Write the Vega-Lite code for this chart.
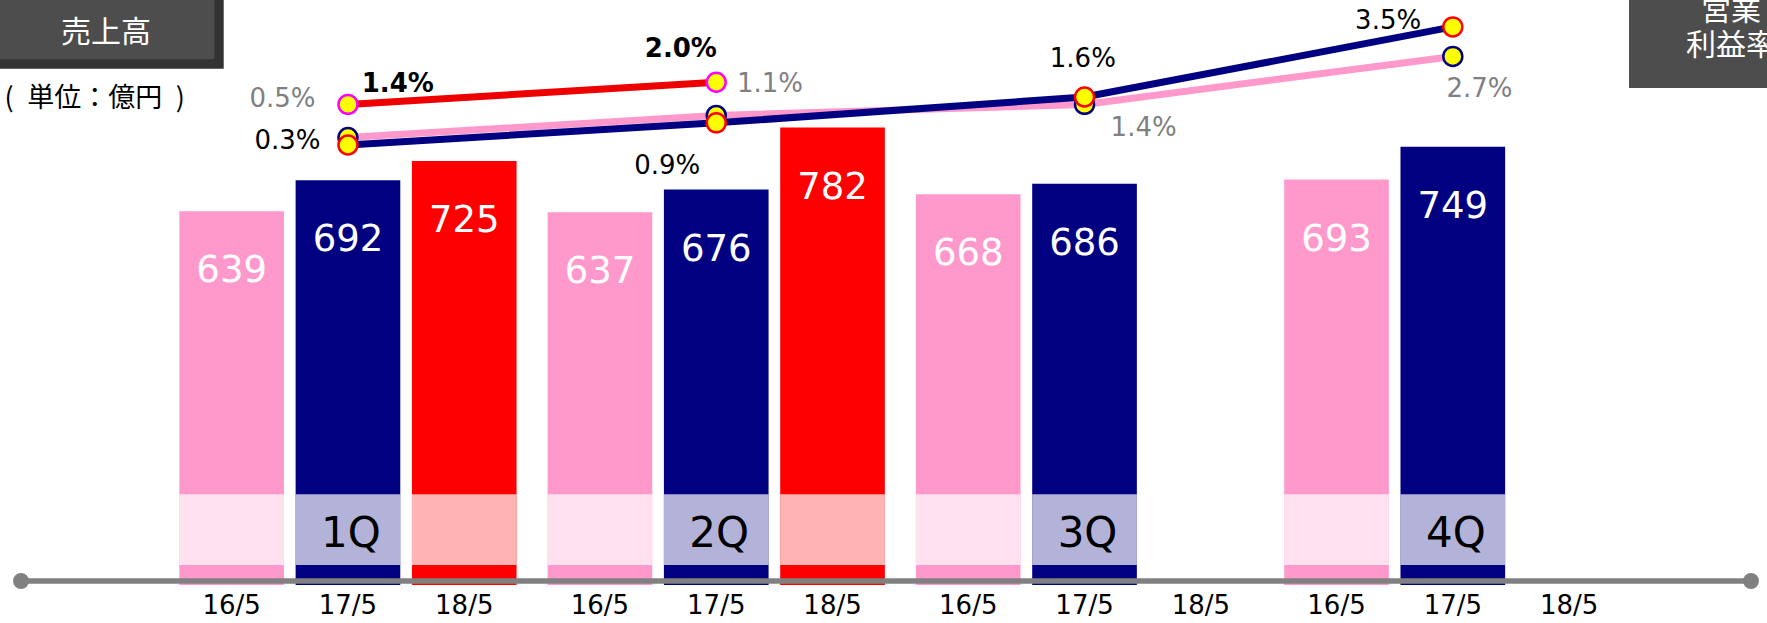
{
  "$schema": "https://vega.github.io/schema/vega-lite/v6.json",
  "width": 1730,
  "height": 585,
  "autosize": {"type": "none"},
  "padding": {"left": 21, "top": 0, "right": 16, "bottom": 38},
  "background": "white",
  "config": {"view": {"stroke": null}, "font": "DejaVu Sans", "text": {"font": "DejaVu Sans", "baseline": "middle"}},
  "datasets": {
    "q": [
      {"quarter": "1Q", "series": "16/5", "sales": 639, "pct": 0.005},
      {"quarter": "1Q", "series": "17/5", "sales": 692, "pct": 0.003},
      {"quarter": "1Q", "series": "18/5", "sales": 725, "pct": 0.014},
      {"quarter": "2Q", "series": "16/5", "sales": 637, "pct": 0.011},
      {"quarter": "2Q", "series": "17/5", "sales": 676, "pct": 0.009},
      {"quarter": "2Q", "series": "18/5", "sales": 782, "pct": 0.020},
      {"quarter": "3Q", "series": "16/5", "sales": 668, "pct": 0.014},
      {"quarter": "3Q", "series": "17/5", "sales": 686, "pct": 0.016},
      {"quarter": "3Q", "series": "18/5", "sales": null, "pct": null},
      {"quarter": "4Q", "series": "16/5", "sales": 693, "pct": 0.027},
      {"quarter": "4Q", "series": "17/5", "sales": 749, "pct": 0.035},
      {"quarter": "4Q", "series": "18/5", "sales": null, "pct": null}
    ]
  },
  "data": {"name": "q"},
  "layer": [
    {
      "encoding": {
        "x": {"field": "quarter", "type": "nominal", "sort": ["1Q", "2Q", "3Q", "4Q"], "scale": {"type": "band", "paddingInner": 0, "paddingOuter": 0.3487, "align": 0.556}, "axis": null},
        "xOffset": {"field": "series", "type": "nominal", "sort": ["16/5", "17/5", "18/5"], "scale": {"paddingInner": 0.1, "paddingOuter": 0.1334}}
      },
      "layer": [
        {
          "transform": [{"filter": "datum.sales != null"}],
          "mark": {"type": "bar"},
          "encoding": {
            "y": {"field": "sales", "type": "quantitative", "scale": {"domain": [0, 1000], "nice": false},
              "axis": {"title": "(\u2002単位：億円\u2002)", "titleAngle": 0, "titleAlign": "left", "titleBaseline": "middle", "titleX": -17, "titleY": 98, "titleFont": "Noto Sans CJK JP", "titleFontSize": 27, "titleFontWeight": "normal", "titleColor": "black", "labels": false, "ticks": false, "domain": false, "grid": false}},
            "fill": {"field": "series", "type": "nominal", "scale": {"domain": ["16/5", "17/5", "18/5"], "range": ["#FF99CC", "#000080", "#FF0000"]},
              "legend": {"orient": "none", "legendX": -51, "legendY": -40, "values": [], "title": ["\u200b\u3000\u200b", "\u200b\u3000\u3000\u2002売上高\u3000\u2002\u2009\u200b"], "titleFont": "Noto Sans CJK JP", "titleFontSize": 30, "titleFontWeight": "normal", "titleColor": "white", "titleLineHeight": 41.6, "titleLimit": 600, "titlePadding": 0, "titleAlign": "left", "titleBaseline": "top", "padding": 16.1, "fillColor": "#4D4D4D", "strokeColor": "#333333", "encode": {"legend": {"update": {"strokeWidth": {"value": 9.4}}}}}}
          }
        },
        {
          "transform": [{"filter": "datum.sales != null"}],
          "mark": {"type": "bar", "fill": "white", "opacity": 0.7},
          "encoding": {"y": {"datum": 155, "type": "quantitative"}, "y2": {"datum": 34}}
        },
        {
          "transform": [{"filter": "datum.sales != null"}],
          "mark": {"type": "text", "color": "white", "fontSize": 37, "dy": 60, "baseline": "middle"},
          "encoding": {"y": {"field": "sales", "type": "quantitative"}, "text": {"field": "sales", "type": "quantitative"}}
        },
        {
          "transform": [{"filter": "datum.series == '17/5'"}],
          "mark": {"type": "text", "color": "black", "fontSize": 42, "dx": 3, "baseline": "middle"},
          "encoding": {"y": {"datum": 88, "type": "quantitative"}, "text": {"field": "quarter", "type": "nominal"}}
        },
        {
          "mark": {"type": "text", "color": "black", "fontSize": 26, "dy": 20.5, "baseline": "middle"},
          "encoding": {"y": {"datum": 0, "type": "quantitative"}, "text": {"field": "series", "type": "nominal"}}
        }
      ]
    },
    {
      "data": {"values": [{"end": 0}, {"end": 1}]},
      "encoding": {
        "x": {"field": "end", "type": "quantitative", "scale": {"domain": [0, 1], "nice": false, "zero": false}, "axis": null},
        "y": {"datum": 0, "type": "quantitative", "scale": {"domain": [0, 1000], "nice": false}, "axis": null}
      },
      "layer": [
        {"mark": {"type": "line", "color": "#808080", "strokeWidth": 5.5, "yOffset": -4}},
        {"mark": {"type": "point", "filled": true, "color": "#808080", "size": 254, "opacity": 1, "yOffset": -4}}
      ]
    },
    {
      "transform": [{"filter": "datum.pct != null"}],
      "encoding": {
        "x": {"field": "quarter", "type": "nominal", "sort": ["1Q", "2Q", "3Q", "4Q"], "scale": {"type": "band", "paddingInner": 0, "paddingOuter": 0.3487, "align": 0.556}, "axis": null},
        "y": {"field": "pct", "type": "quantitative", "scale": {"domain": [-0.1163, 0.0423], "nice": false, "zero": false}, "axis": null}
      },
      "layer": [
        {
          "mark": {"type": "line", "strokeWidth": 7},
          "encoding": {
            "stroke": {"field": "series", "type": "nominal", "sort": "ascending", "scale": {"range": ["#FF99CC", "#000080", "#EE0000"]},
              "legend": {"orient": "none", "legendX": 1608, "legendY": -31, "values": [], "title": ["\u200b\u3000\u2002営業", "\u200b\u3000利益率"], "titleFont": "Noto Sans CJK JP", "titleFontSize": 30, "titleFontWeight": "normal", "titleColor": "white", "titleLineHeight": 35, "titleLimit": 600, "titlePadding": 0, "titleAlign": "left", "titleBaseline": "top", "padding": 27, "fillColor": "#4D4D4D"}}
          }
        },
        {"transform": [{"filter": "datum.series == '16/5'"}], "mark": {"type": "point", "shape": "circle", "filled": true, "fill": "#FFFF00", "stroke": "#000080", "strokeWidth": 2.5, "size": 360, "opacity": 1}},
        {"transform": [{"filter": "datum.series == '17/5'"}], "mark": {"type": "point", "shape": "circle", "filled": true, "fill": "#FFFF00", "stroke": "#FF0000", "strokeWidth": 2.5, "size": 360, "opacity": 1}},
        {"transform": [{"filter": "datum.series == '18/5'"}], "mark": {"type": "point", "shape": "circle", "filled": true, "fill": "#FFFF00", "stroke": "#FF00FF", "strokeWidth": 2.5, "size": 360, "opacity": 1}},
        {"transform": [{"filter": "datum.series == '16/5' && datum.quarter == '1Q'"}], "mark": {"type": "text", "dx": -65.5, "dy": -38.4, "fontSize": 26, "color": "#808080"}, "encoding": {"text": {"field": "pct", "type": "quantitative", "format": ".1%"}}},
        {"transform": [{"filter": "datum.series == '16/5' && datum.quarter == '2Q'"}], "mark": {"type": "text", "dx": 53.7, "dy": -31.4, "fontSize": 26, "color": "#808080"}, "encoding": {"text": {"field": "pct", "type": "quantitative", "format": ".1%"}}},
        {"transform": [{"filter": "datum.series == '16/5' && datum.quarter == '3Q'"}], "mark": {"type": "text", "dx": 59.1, "dy": 23.5, "fontSize": 26, "color": "#808080"}, "encoding": {"text": {"field": "pct", "type": "quantitative", "format": ".1%"}}},
        {"transform": [{"filter": "datum.series == '16/5' && datum.quarter == '4Q'"}], "mark": {"type": "text", "dx": 26.6, "dy": 32.1, "fontSize": 26, "color": "#808080"}, "encoding": {"text": {"field": "pct", "type": "quantitative", "format": ".1%"}}},
        {"transform": [{"filter": "datum.series == '17/5' && datum.quarter == '1Q'"}], "mark": {"type": "text", "dx": -60.5, "dy": -4.2, "fontSize": 26, "color": "black"}, "encoding": {"text": {"field": "pct", "type": "quantitative", "format": ".1%"}}},
        {"transform": [{"filter": "datum.series == '17/5' && datum.quarter == '2Q'"}], "mark": {"type": "text", "dx": -49, "dy": 43.4, "fontSize": 26, "color": "black"}, "encoding": {"text": {"field": "pct", "type": "quantitative", "format": ".1%"}}},
        {"transform": [{"filter": "datum.series == '17/5' && datum.quarter == '3Q'"}], "mark": {"type": "text", "dx": -1.7, "dy": -37.8, "fontSize": 26, "color": "black"}, "encoding": {"text": {"field": "pct", "type": "quantitative", "format": ".1%"}}},
        {"transform": [{"filter": "datum.series == '17/5' && datum.quarter == '4Q'"}], "mark": {"type": "text", "dx": -64.7, "dy": -6, "fontSize": 26, "color": "black"}, "encoding": {"text": {"field": "pct", "type": "quantitative", "format": ".1%"}}},
        {"transform": [{"filter": "datum.series == '18/5' && datum.quarter == '1Q'"}], "mark": {"type": "text", "dx": 49.8, "dy": -20.4, "fontSize": 26, "fontWeight": "bold", "color": "black"}, "encoding": {"text": {"field": "pct", "type": "quantitative", "format": ".1%"}}},
        {"transform": [{"filter": "datum.series == '18/5' && datum.quarter == '2Q'"}], "mark": {"type": "text", "dx": -35.4, "dy": -33.2, "fontSize": 26, "fontWeight": "bold", "color": "black"}, "encoding": {"text": {"field": "pct", "type": "quantitative", "format": ".1%"}}}
      ]
    }
  ],
  "resolve": {"scale": {"x": "independent", "y": "independent"}}
}
